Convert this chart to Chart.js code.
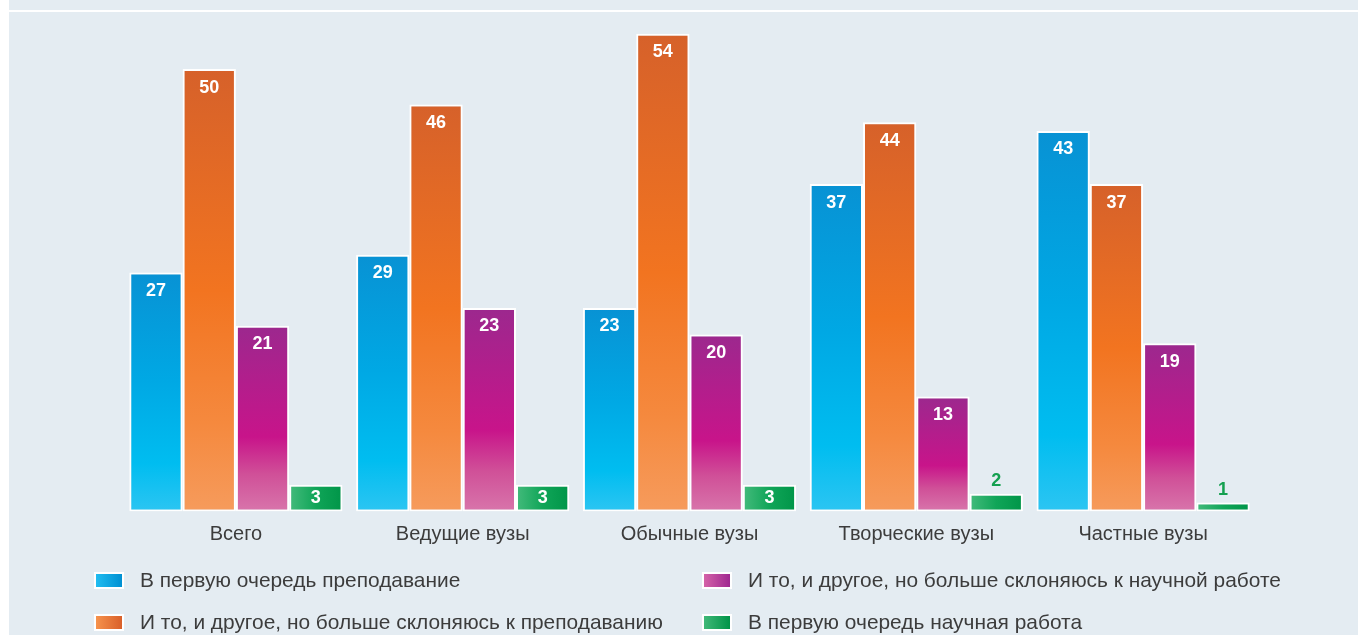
<!DOCTYPE html>
<html>
<head>
<meta charset="utf-8">
<script src="https://cdn.jsdelivr.net/npm/chart.js@4.4.1/dist/chart.umd.min.js"></script>
<style>
  html, body { margin: 0; padding: 0; background: #fff; }
  #panel { position: absolute; left: 9px; top: 0; width: 1349px; height: 635px; background: #e4ecf2; }
  #topline { position: absolute; left: 9px; top: 10px; width: 1349px; height: 2px; background: #fff; }
  #chart { position: absolute; left: 0; top: 0; }
  .legend { position: absolute; font-family: "Liberation Sans", Arial, sans-serif; font-size: 20.9px; color: #3c3c3c; white-space: nowrap; }
  .legend .box { position: absolute; left: 0; top: 50%; width: 26px; height: 13px; margin-top: -8.5px; border: 2px solid #fff; }
  .legend span { position: absolute; left: 46px; top: 50%; transform: translateY(-50%); }
</style>
</head>
<body>
<div id="panel"></div>
<div id="topline"></div>
<canvas id="chart" width="1358" height="635"></canvas>
<div id="legend"></div>
<script>
const categories = ['Всего', 'Ведущие вузы', 'Обычные вузы', 'Творческие вузы', 'Частные вузы'];
const seriesNames = [
  'В первую очередь преподавание',
  'И то, и другое, но больше склоняюсь к преподаванию',
  'И то, и другое, но больше склоняюсь к научной работе',
  'В первую очередь научная работа'
];
const teaching = [27, 29, 23, 37, 43];
const moreTeaching = [50, 46, 54, 44, 37];
const moreResearch = [21, 23, 20, 13, 19];
const research = [3, 3, 3, 2, 1];

// vertical gradient stops per series (top -> bottom), green is horizontal
const gradStops = [
  [[0, '#0892d4'], [0.45, '#00a8e4'], [0.8, '#00bdf0'], [1, '#2cc5f2']],
  [[0, '#d6612a'], [0.5, '#f27420'], [0.8, '#f5893e'], [1, '#f69b5c']],
  [[0, '#9c288e'], [0.6, '#c8148a'], [0.8, '#d05098'], [1, '#d875ab']],
  [[0, '#44bb7c'], [0.5, '#10a558'], [1, '#009548']]
];
const legendStops = [
  ['#20bcf0', '#0090d2'],
  ['#f6924c', '#d9602a'],
  ['#d462a8', '#a02890'],
  ['#40b878', '#009448']
];

const CAT_PCT = 0.94;

function barFill(seriesIndex) {
  return function(context) {
    const chart = context.chart;
    if (!chart.chartArea || context.type !== 'data') return gradStops[seriesIndex][1][1];
    const c = chart.ctx;
    const y = chart.scales.y;
    const x = chart.scales.x;
    let g;
    if (seriesIndex === 3) {
      const center = x.getPixelForValue(context.dataIndex);
      const groupW = (x.right - x.left) / categories.length * CAT_PCT;
      const left = center - groupW / 2 + 3 * groupW / 4;
      g = c.createLinearGradient(left, 0, left + groupW / 4, 0);
    } else {
      g = c.createLinearGradient(0, y.getPixelForValue(context.raw), 0, y.getPixelForValue(0));
    }
    gradStops[seriesIndex].forEach(s => g.addColorStop(s[0], s[1]));
    return g;
  };
}

const valueLabels = {
  id: 'valueLabels',
  afterDatasetsDraw(chart) {
    const c = chart.ctx;
    c.save();
    c.font = 'bold 18px "Liberation Sans", Arial, sans-serif';
    c.textAlign = 'center';
    c.textBaseline = 'middle';
    chart.data.datasets.forEach((ds, di) => {
      chart.getDatasetMeta(di).data.forEach((bar, i) => {
        const v = ds.data[i];
        let ty;
        if (v >= 3) {
          c.fillStyle = '#ffffff';
          ty = Math.min(bar.y + 18.5, (bar.y + bar.base) / 2);
        } else {
          c.fillStyle = '#14a050';
          ty = bar.y - 12.5;
        }
        c.fillText(String(v), bar.x, ty);
      });
    });
    c.restore();
  }
};

const seriesData = [teaching, moreTeaching, moreResearch, research];

new Chart(document.getElementById('chart'), {
  type: 'bar',
  data: {
    labels: categories,
    datasets: seriesData.map((d, i) => ({
      label: seriesNames[i],
      data: d,
      backgroundColor: barFill(i),
      borderColor: '#ffffff',
      borderWidth: 2,
      borderSkipped: false,
      barPercentage: 1,
      categoryPercentage: CAT_PCT
    }))
  },
  options: {
    responsive: false,
    animation: false,
    layout: {
      padding: { left: 122.5, right: 101.5, top: 16, bottom: 77.6 }
    },
    plugins: {
      legend: { display: false },
      tooltip: { enabled: false }
    },
    scales: {
      y: {
        display: false,
        min: 0,
        max: 56
      },
      x: {
        grid: { display: false, drawTicks: false },
        border: { display: false },
        ticks: {
          color: '#3c3c3c',
          padding: 11,
          font: { family: '"Liberation Sans", Arial, sans-serif', size: 20 }
        }
      }
    }
  },
  plugins: [valueLabels]
});

// legend in two columns, drawn as html
const legendPos = [
  { left: 94, top: 580 },
  { left: 94, top: 622 },
  { left: 702, top: 580 },
  { left: 702, top: 622 }
];
const legendEl = document.getElementById('legend');
seriesNames.forEach((name, i) => {
  const item = document.createElement('div');
  item.className = 'legend';
  item.style.left = legendPos[i].left + 'px';
  item.style.top = legendPos[i].top + 'px';
  item.innerHTML = '<div class="box" style="background:linear-gradient(to right,' +
    legendStops[i][0] + ',' + legendStops[i][1] + ')"></div><span>' + name + '</span>';
  legendEl.appendChild(item);
});
</script>
</body>
</html>
